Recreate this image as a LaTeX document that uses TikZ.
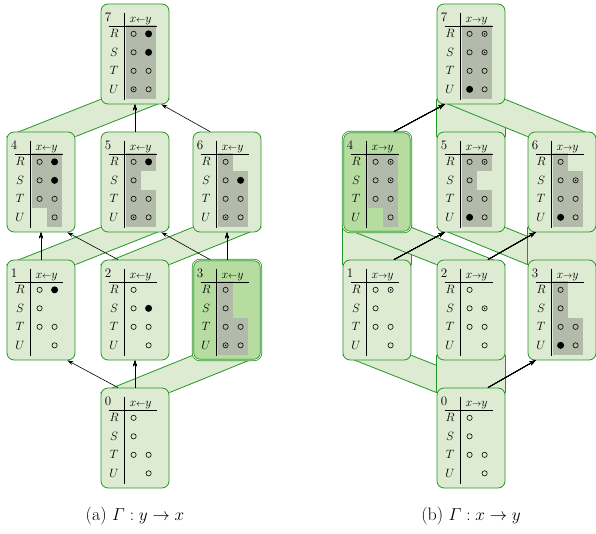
\documentclass[tikz,border=0pt]{standalone}
\usepackage{amsmath}
\usetikzlibrary{calc,arrows.meta}

\definecolor{boxfill}{RGB}{221,235,211}
\definecolor{boxline}{RGB}{34,150,34}
\definecolor{cellgray}{RGB}{178,186,170}
\definecolor{hlfill}{RGB}{183,220,160}

\pgfdeclarelayer{bg}
\pgfsetlayers{bg,main}

\tikzset{
  stbox/.style={draw=boxline,fill=boxfill,line width=.8pt,rounded corners=7pt,
    minimum width=68pt,minimum height=100pt,inner sep=0pt},
  stboxhl/.style={stbox,fill=hlfill,double=white,double distance=.7pt},
  bandline/.style={draw=boxline,line width=.8pt},
  dep/.style={-{Stealth[length=6pt,width=4pt]},line width=.6pt},
}

% one symbol: o open, f filled, d dotted, n nothing
\newcommand{\stsym}[3]{%
  \if o#1\draw[line width=.6pt] (#2,#3) circle (2.6pt);\fi
  \if f#1\fill (#2,#3) circle (3.5pt);\fi
  \if d#1\draw[line width=.6pt] (#2,#3) circle (2.6pt);\fill (#2,#3) circle (.8pt);\fi}

% table inside a box: node, number, header, rows, gray cells
\newcommand{\stcells}[5]{%
  \begin{scope}[shift={(#1.north west)}]
    \foreach \r/\c in {#5}
      \fill[cellgray] ({10.5+15*\c},{2.5+18.5*\r}) rectangle ++(15,18.5);
    \node[anchor=base west] (#1-n) at (4,18) {#2};
    \node[anchor=base] (#1-h) at (40,18.5) {#3};
    \draw[line width=.6pt] (8,22.5) -- (56,22.5) (24,9) -- (24,96);
    \foreach \lab/\p/\q [count=\r] in {#4} {
      \node (#1-\lab) at (13.5,{11.75+18.5*\r}) {$\lab$};
      \stsym{\p}{33}{11.75+18.5*\r}
      \stsym{\q}{48}{11.75+18.5*\r}
    }
  \end{scope}}

% green strip between two boxes
\newcommand{\band}[2]{%
  \begin{pgfonlayer}{bg}
    \fill[boxfill] ($(#1.north west)+(0,5)$) -- ($(#2.south west)+(0,-5)$)
      -- ($(#2.south east)+(0,-5)$) -- ($(#1.north east)+(0,5)$) -- cycle;
    \draw[bandline] ($(#1.north west)+(0,5)$) -- ($(#2.south west)+(0,-5)$)
      ($(#1.north east)+(0,5)$) -- ($(#2.south east)+(0,-5)$);
  \end{pgfonlayer}}

\newcommand{\hl}{$x{\scriptstyle\leftarrow}y$}
\newcommand{\hr}{$x{\scriptstyle\rightarrow}y$}

\begin{document}
\begin{tikzpicture}[x=1pt,y=-1pt,every node/.style={font=\fontsize{13}{15}\selectfont,inner sep=0pt}]
  \useasboundingbox (0,0) rectangle (596,534);

  % (a)
  \node[stbox] (a7) at (135,54) {};
  \node[stbox] (a4) at (41,182) {};
  \node[stbox] (a5) at (135,182) {};
  \node[stbox] (a6) at (227,182) {};
  \node[stbox] (a1) at (41,310) {};
  \node[stbox] (a2) at (135,310) {};
  \node[stboxhl] (a3) at (227,310) {};
  \node[stbox] (a0) at (135,438) {};

  \stcells{a7}{7}{\hl}{R/o/f,S/o/f,T/o/o,U/d/o}{1/1,1/2,2/1,2/2,3/1,3/2,4/1,4/2}
  \stcells{a4}{4}{\hl}{R/o/f,S/o/f,T/o/o,U/n/o}{1/1,1/2,2/1,2/2,3/1,3/2,4/2}
  \stcells{a5}{5}{\hl}{R/o/f,S/o/n,T/o/o,U/d/o}{1/1,1/2,2/1,3/1,3/2,4/1,4/2}
  \stcells{a6}{6}{\hl}{R/o/n,S/o/f,T/o/o,U/d/o}{1/1,2/1,2/2,3/1,3/2,4/1,4/2}
  \stcells{a1}{1}{\hl}{R/o/f,S/o/n,T/o/o,U/n/o}{}
  \stcells{a2}{2}{\hl}{R/o/n,S/o/f,T/o/o,U/n/o}{}
  \stcells{a3}{3}{\hl}{R/o/n,S/o/n,T/o/o,U/d/o}{1/1,2/1,3/1,3/2,4/1,4/2}
  \stcells{a0}{0}{\hl}{R/o/n,S/o/n,T/o/o,U/n/o}{}

  \foreach \from/\to in {a4/a7,a1/a5,a2/a6,a0/a3}
    \band{\from}{\to}
  \foreach \from/\to in {a5/a7,a1/a4,a3/a6,a0/a2}
    \draw[dep] (\from) -- (\to);
  \foreach \from/\to in {a6/a7,a2/a4,a3/a5,a0/a1}
    \draw[dep] ([xshift=-17pt]\from.north) -- ([xshift=-8pt]\to.south east);

  % (b)
  \node[stbox] (b7) at (471,54) {};
  \node[stboxhl] (b4) at (377,182) {};
  \node[stbox] (b5) at (471,182) {};
  \node[stbox] (b6) at (562,182) {};
  \node[stbox] (b1) at (377,310) {};
  \node[stbox] (b2) at (471,310) {};
  \node[stbox] (b3) at (562,310) {};
  \node[stbox] (b0) at (471,438) {};

  \stcells{b7}{7}{\hr}{R/o/d,S/o/d,T/o/o,U/f/o}{1/1,1/2,2/1,2/2,3/1,3/2,4/1,4/2}
  \stcells{b4}{4}{\hr}{R/o/d,S/o/d,T/o/o,U/n/o}{1/1,1/2,2/1,2/2,3/1,3/2,4/2}
  \stcells{b5}{5}{\hr}{R/o/d,S/o/n,T/o/o,U/f/o}{1/1,1/2,2/1,3/1,3/2,4/1,4/2}
  \stcells{b6}{6}{\hr}{R/o/n,S/o/d,T/o/o,U/f/o}{1/1,2/1,2/2,3/1,3/2,4/1,4/2}
  \stcells{b1}{1}{\hr}{R/o/d,S/o/n,T/o/o,U/n/o}{}
  \stcells{b2}{2}{\hr}{R/o/n,S/o/d,T/o/o,U/n/o}{}
  \stcells{b3}{3}{\hr}{R/o/n,S/o/n,T/o/o,U/f/o}{1/1,2/1,3/1,3/2,4/1,4/2}
  \stcells{b0}{0}{\hr}{R/o/n,S/o/n,T/o/o,U/n/o}{}

  \foreach \from/\to in {b0/b1,b0/b2,b1/b4,b2/b4,b3/b5,b3/b6,b5/b7,b6/b7}
    \band{\from}{\to}
  \foreach \from/\to in {b4/b7,b1/b5,b2/b6,b0/b3}
    \draw[dep] ([xshift=17pt]\from.north) -- ([xshift=8pt]\to.south west);

  \node[font=\fontsize{18}{20}\selectfont] (capa) at (135,516) {(a) $\varGamma: y \to x$};
  \node[font=\fontsize{18}{20}\selectfont] (capb) at (471,516) {(b) $\varGamma: x \to y$};
\end{tikzpicture}
\end{document}
